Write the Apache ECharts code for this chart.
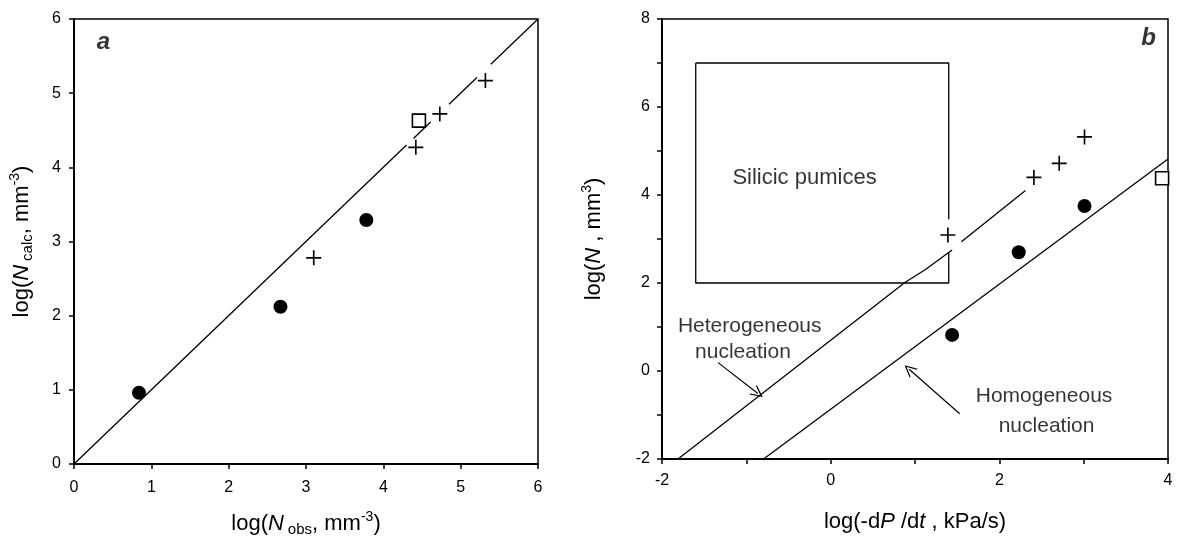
<!DOCTYPE html>
<html>
<head>
<meta charset="utf-8">
<script src="https://cdn.jsdelivr.net/npm/echarts@6/dist/echarts.min.js"></script>
<style>
html,body{margin:0;padding:0;background:#fff;}
#c{width:1178px;height:536px;}
</style>
</head>
<body>
<div id="c"></div>
<script>
// ---------- Panel a data ----------
const aXTicks = [0, 1, 2, 3, 4, 5, 6];
const aCircles = [[0.84, 0.96], [2.67, 2.12], [3.78, 3.29]];
const aCrosses = [[3.10, 2.78], [4.42, 4.27], [4.73, 4.72], [5.32, 5.17]];
const aSquares = [[4.46, 4.63]];
// 1:1 line (broken where markers sit on it)
const aLine = [[0, 0], [4.30, 4.30], null, [4.39, 4.39], [4.61, 4.61], null, [4.85, 4.85], [5.21, 5.21], null, [5.39, 5.39], [6, 6]];

// ---------- Panel b data ----------
const bCircles = [[1.44, 0.82], [2.23, 2.70], [3.01, 3.75]];
const bCrosses = [[1.39, 3.09], [2.41, 4.40], [2.71, 4.72], [3.01, 5.32]];
const bSquares = [[3.93, 4.38]];
const bHetero = [[-1.81, -2], [0.88, 2.01], [1.12, 2.30], [1.44, 2.75], null, [1.55, 2.94], [2.31, 4.10]];
const bHomo = [[-0.795, -2], [4, 4.82]];
const bBox = [[-1.6, 7], [1.4, 7], [1.4, 3.45], null, [1.4, 2.7], [1.4, 2], [-1.6, 2], [-1.6, 7]];
const bArrows = [[[-1.335, 0.19], [-0.863, -0.51]], [[1.53, -0.97], [0.93, 0.04]]];
const bNotes = [
  ['Silicic pumices', -0.31, 4.38, 22],
  ['Heterogeneous', -0.96, 1.01, 21],
  ['nucleation', -1.04, 0.43, 21],
  ['Homogeneous', 2.53, -0.58, 21],
  ['nucleation', 2.56, -1.25, 21]
];

const FONT = '"Liberation Sans", Arial, Helvetica, sans-serif';
const crossPath = 'path://M0,4.45H10V5.55H0Z M4.45,0H5.55V10H4.45Z';
const chevron = 'path://M0,10 L5,0 L10,10 L8.9,10 L5,2.3 L1.1,10 Z';

function splitSegments(pts) {
  const segs = []; let cur = [];
  pts.forEach(p => { if (p === null) { if (cur.length) segs.push(cur); cur = []; } else cur.push(p); });
  if (cur.length) segs.push(cur);
  return segs;
}
function lines(pts, idx) {
  return splitSegments(pts).map(seg => ({
    type: 'line', xAxisIndex: idx, yAxisIndex: idx, data: seg, symbol: 'none',
    lineStyle: { color: '#000', width: 1.3 }, silent: true, animation: false, z: 2, clip: false
  }));
}
function markers(idx, circles, crosses, squares) {
  return [
    { type: 'scatter', xAxisIndex: idx, yAxisIndex: idx, data: circles, symbol: 'circle', symbolSize: 14,
      itemStyle: { color: '#000', opacity: 1 }, z: 5, animation: false },
    { type: 'scatter', xAxisIndex: idx, yAxisIndex: idx, data: crosses, symbol: crossPath, symbolSize: 15,
      itemStyle: { color: '#000', opacity: 1 }, z: 5, animation: false },
    { type: 'scatter', xAxisIndex: idx, yAxisIndex: idx, data: squares, symbol: 'rect', symbolSize: 13,
      itemStyle: { color: '#fff', borderColor: '#000', borderWidth: 1.6, opacity: 1 }, z: 5, animation: false }
  ];
}
function textAt(idx, x, y, text, style) {
  return { type: 'scatter', xAxisIndex: idx, yAxisIndex: idx, data: [[x, y]], symbolSize: 0, silent: true,
    animation: false, z: 6,
    label: Object.assign({ show: true, position: 'inside', formatter: text, color: '#000', fontFamily: FONT,
      textBorderWidth: 0 }, style) };
}

const tickLbl = { color: '#000', fontSize: 16, fontFamily: FONT };
const axLine = { show: true, onZero: false, lineStyle: { color: '#000', width: 2 } };
const axTick = { show: true, inside: false, length: 5, lineStyle: { color: '#000', width: 1.5 } };
const nameRich = {
  n: { fontSize: 22, fontFamily: FONT, color: '#000', lineHeight: 27 },
  i: { fontSize: 22, fontFamily: FONT, color: '#000', fontStyle: 'italic', lineHeight: 27 },
  s: { fontSize: 15, fontFamily: FONT, color: '#000', verticalAlign: 'bottom', padding: [0, 0, 0, 4] },
  p: { fontSize: 14, fontFamily: FONT, color: '#000', verticalAlign: 'top' }
};

const evenOnly = v => (Math.round(v) % 2 === 0 ? String(v) : '');

const series = [].concat(
  lines(aLine, 0),
  markers(0, aCircles, aCrosses, aSquares),
  [textAt(0, 0.38, 5.69, 'a', { fontSize: 24, fontWeight: 'bold', fontStyle: 'italic' })],
  lines(bHetero, 1), lines(bHomo, 1), lines(bBox, 1),
  markers(1, bCircles, bCrosses, bSquares),
  [{ type: 'lines', coordinateSystem: 'cartesian2d', xAxisIndex: 1, yAxisIndex: 1, animation: false, silent: true,
     data: bArrows.map(c => ({ coords: c })), symbol: ['none', chevron], symbolSize: [9, 12],
     lineStyle: { color: '#000', width: 1.2, opacity: 1 }, z: 4 }],
  bNotes.map(n => textAt(1, n[1], n[2], n[0], { fontSize: n[3] })),
  [textAt(1, 3.77, 7.55, 'b', { fontSize: 24, fontWeight: 'bold', fontStyle: 'italic' })]
);

const option = {
  animation: false,
  backgroundColor: '#fff',
  grid: [
    { left: 74, top: 19, width: 464, height: 445, show: true, borderColor: '#000', borderWidth: 1.5,
      containLabel: false, outerBoundsMode: 'none' },
    { left: 662, top: 19, width: 506, height: 440, show: true, borderColor: '#000', borderWidth: 1.5,
      containLabel: false, outerBoundsMode: 'none' }
  ],
  xAxis: [
    { type: 'value', gridIndex: 0, min: 0, max: 6, interval: 1, axisLine: axLine, axisTick: axTick,
      splitLine: { show: false }, axisLabel: Object.assign({ margin: 16 }, tickLbl),
      name: '{n|log(}{i|N}{s|obs}{n|, mm}{p|-3}{n|)}', nameLocation: 'middle', nameGap: 46,
      nameTextStyle: { rich: nameRich } },
    { type: 'value', gridIndex: 1, min: -2, max: 4, interval: 1, axisLine: axLine, axisTick: axTick,
      splitLine: { show: false }, axisLabel: Object.assign({ margin: 14, formatter: evenOnly }, tickLbl),
      name: '{n|log(-d}{i|P}{n| /d}{i|t}{n| , kPa/s)}', nameLocation: 'middle', nameGap: 49,
      nameTextStyle: { rich: nameRich } }
  ],
  yAxis: [
    { type: 'value', gridIndex: 0, min: 0, max: 6, interval: 1, axisLine: axLine, axisTick: axTick,
      splitLine: { show: false }, axisLabel: Object.assign({ margin: 13 }, tickLbl),
      name: '{n|log(}{i|N}{s|calc}{n|, mm}{p|-3}{n|)}', nameLocation: 'middle', nameGap: 39, nameRotate: 90,
      nameTextStyle: { rich: nameRich } },
    { type: 'value', gridIndex: 1, min: -2, max: 8, interval: 1, axisLine: axLine, axisTick: axTick,
      splitLine: { show: false }, axisLabel: Object.assign({ margin: 12, formatter: evenOnly }, tickLbl),
      name: '{n|log(}{i|N}{n| , mm}{p|3}{n|)}', nameLocation: 'middle', nameGap: 55, nameRotate: 90,
      nameTextStyle: { rich: nameRich } }
  ],
  series: series
};

const chart = echarts.init(document.getElementById('c'), null, { renderer: 'canvas' });
chart.setOption(option);
</script>
</body>
</html>
